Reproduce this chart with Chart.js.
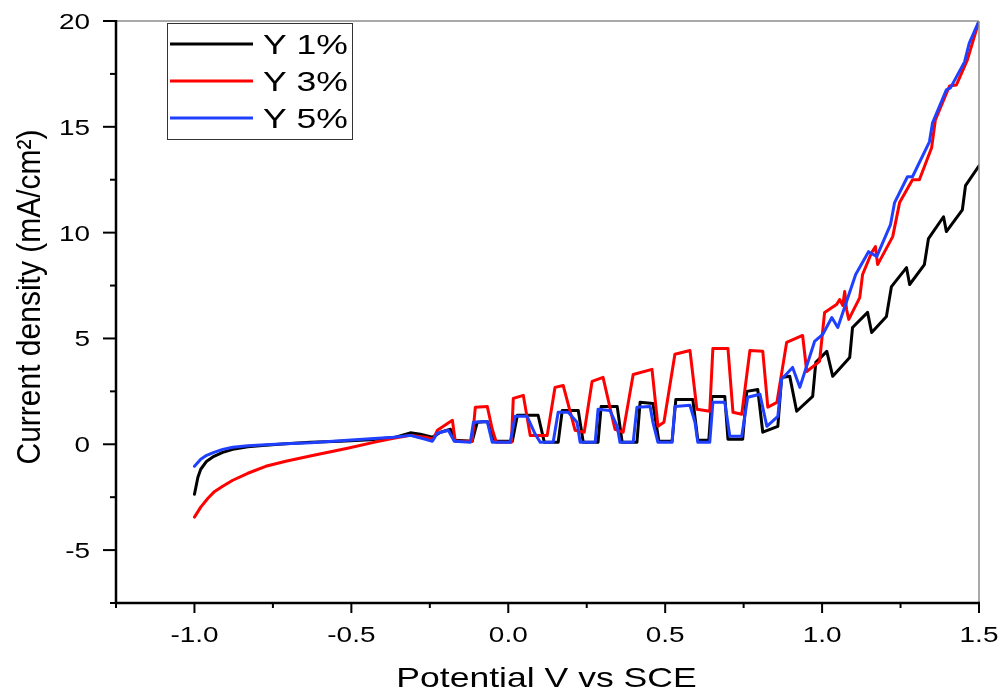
<!DOCTYPE html>
<html>
<head>
<meta charset="utf-8">
<script src="https://cdn.jsdelivr.net/npm/chart.js@4.4.1/dist/chart.umd.min.js"></script>
<style>
  html, body { margin: 0; padding: 0; background: #fff; }
  canvas { display: block; }
</style>
</head>
<body>
<canvas id="chart" width="1006" height="696"></canvas>
<script>
const seriesNames = ['Y 1%', 'Y 3%', 'Y 5%'];
const seriesColors = ['#000000', '#ff0000', '#2040ff'];

// chopped-light LSV scans, potential in V vs SCE, current in mA/cm2
const y1Potential = [-1.0, -0.989, -0.98, -0.961, -0.938, -0.91, -0.878, -0.83, -0.773, -0.709, -0.63, -0.534, -0.439, -0.359, -0.312, -0.28, -0.242, -0.216, -0.184, -0.169, -0.115, -0.099, -0.067, -0.041, 0.013, 0.029, 0.095, 0.115, 0.159, 0.172, 0.223, 0.239, 0.286, 0.296, 0.347, 0.363, 0.41, 0.42, 0.461, 0.48, 0.522, 0.534, 0.588, 0.604, 0.639, 0.649, 0.69, 0.70, 0.747, 0.76, 0.795, 0.811, 0.859, 0.871, 0.897, 0.919, 0.97, 0.98, 1.015, 1.034, 1.088, 1.097, 1.145, 1.158, 1.205, 1.221, 1.269, 1.279, 1.326, 1.339, 1.387, 1.396, 1.447, 1.457, 1.5];
const y1Current = [-2.36, -1.56, -1.18, -0.80, -0.57, -0.38, -0.24, -0.12, -0.05, 0.02, 0.09, 0.14, 0.21, 0.33, 0.54, 0.47, 0.33, 0.57, 0.71, 0.19, 0.14, 1.04, 1.08, 0.14, 0.14, 1.37, 1.37, 0.09, 0.09, 1.60, 1.60, 0.09, 0.09, 1.79, 1.79, 0.09, 0.09, 1.98, 1.93, 0.14, 0.14, 2.12, 2.12, 0.19, 0.19, 2.26, 2.26, 0.24, 0.24, 2.50, 2.59, 0.57, 0.85, 3.16, 3.21, 1.56, 2.26, 3.87, 4.39, 3.21, 4.10, 5.52, 6.23, 5.28, 6.04, 7.45, 8.35, 7.55, 8.49, 9.72, 10.75, 10.05, 11.08, 12.22, 13.16];

const y3Potential = [-1.0, -0.98, -0.957, -0.938, -0.91, -0.878, -0.83, -0.773, -0.709, -0.62, -0.512, -0.429, -0.366, -0.312, -0.264, -0.239, -0.226, -0.178, -0.169, -0.115, -0.105, -0.067, -0.051, -0.038, 0.010, 0.016, 0.048, 0.070, 0.124, 0.149, 0.175, 0.213, 0.242, 0.267, 0.302, 0.340, 0.366, 0.398, 0.458, 0.477, 0.496, 0.531, 0.579, 0.601, 0.642, 0.652, 0.700, 0.716, 0.744, 0.770, 0.811, 0.827, 0.856, 0.887, 0.938, 0.951, 0.992, 1.008, 1.046, 1.056, 1.066, 1.072, 1.078, 1.085, 1.120, 1.129, 1.158, 1.170, 1.177, 1.225, 1.247, 1.288, 1.310, 1.349, 1.361, 1.406, 1.428, 1.463, 1.5];
const y3Current = [-3.44, -2.97, -2.55, -2.26, -1.98, -1.70, -1.37, -1.04, -0.80, -0.52, -0.19, 0.09, 0.28, 0.42, 0.33, 0.24, 0.66, 1.13, 0.14, 0.14, 1.75, 1.79, 0.71, 0.09, 0.09, 2.17, 2.31, 0.42, 0.42, 2.69, 2.78, 0.66, 0.57, 2.97, 3.16, 0.71, 0.57, 3.30, 3.54, 0.85, 1.04, 4.25, 4.43, 1.65, 1.56, 4.53, 4.53, 1.51, 1.42, 4.43, 4.39, 1.75, 1.98, 4.81, 5.14, 3.44, 3.92, 6.23, 6.60, 6.84, 6.56, 7.22, 6.37, 5.90, 6.93, 8.02, 9.06, 9.34, 8.49, 9.81, 11.42, 12.50, 12.50, 14.01, 15.33, 16.93, 16.98, 18.16, 20.0];

const y5Potential = [-1.0, -0.98, -0.961, -0.938, -0.91, -0.878, -0.83, -0.773, -0.709, -0.63, -0.512, -0.366, -0.312, -0.264, -0.242, -0.226, -0.191, -0.172, -0.121, -0.111, -0.067, -0.051, 0.006, 0.022, 0.060, 0.086, 0.102, 0.143, 0.159, 0.191, 0.219, 0.229, 0.277, 0.286, 0.324, 0.347, 0.356, 0.398, 0.410, 0.452, 0.461, 0.477, 0.522, 0.531, 0.579, 0.595, 0.604, 0.642, 0.652, 0.690, 0.706, 0.744, 0.763, 0.802, 0.824, 0.859, 0.871, 0.906, 0.929, 0.976, 1.002, 1.031, 1.050, 1.107, 1.148, 1.174, 1.218, 1.231, 1.272, 1.288, 1.342, 1.352, 1.396, 1.409, 1.454, 1.469, 1.5];
const y5Current = [-1.04, -0.71, -0.52, -0.38, -0.24, -0.14, -0.07, -0.02, 0.02, 0.07, 0.19, 0.33, 0.42, 0.24, 0.14, 0.52, 0.66, 0.14, 0.09, 1.04, 1.08, 0.09, 0.09, 1.32, 1.32, 0.47, 0.09, 0.09, 1.51, 1.51, 1.04, 0.09, 0.09, 1.65, 1.60, 0.85, 0.09, 0.09, 1.75, 1.79, 1.04, 0.09, 0.09, 1.79, 1.84, 1.04, 0.09, 0.09, 1.98, 1.98, 0.38, 0.38, 2.22, 2.36, 0.85, 1.32, 3.07, 3.63, 2.69, 4.86, 5.19, 5.99, 5.52, 8.02, 9.10, 8.87, 10.38, 11.42, 12.64, 12.64, 14.29, 15.19, 16.75, 16.84, 18.07, 18.96, 20.0];

const xMajorTicks = [-1.0, -0.5, 0.0, 0.5, 1.0, 1.5];
const xMinorTicks = [-1.25, -0.75, -0.25, 0.25, 0.75, 1.25];
const yMajorTicks = [-5, 0, 5, 10, 15, 20];
const yMinorTicks = [-7.5, -2.5, 2.5, 7.5, 12.5, 17.5];
const xTitle = 'Potential V vs SCE';
const yTitle = 'Current density (mA/cm²)';

const FONT = '"Liberation Sans", Arial, sans-serif';
const STRETCH = 1.27; // text is drawn a bit wide

function points(xs, ys) {
  return xs.map((x, i) => ({ x, y: ys[i] }));
}

function wideText(ctx, text, x, y, size, align) {
  ctx.save();
  ctx.translate(x, y);
  ctx.scale(STRETCH, 1);
  ctx.font = size + 'px ' + FONT;
  ctx.textAlign = align;
  ctx.textBaseline = 'alphabetic';
  ctx.fillStyle = '#000';
  ctx.fillText(text, 0, 0);
  ctx.restore();
}

function line(ctx, x1, y1, x2, y2, color, width) {
  ctx.beginPath();
  ctx.moveTo(x1, y1);
  ctx.lineTo(x2, y2);
  ctx.strokeStyle = color;
  ctx.lineWidth = width;
  ctx.stroke();
}

// frame, ticks, labels, titles and legend in the plotting-software look
const framePlugin = {
  id: 'frame',
  afterDraw(chart) {
    const { ctx, chartArea: a, scales: { x, y } } = chart;
    ctx.save();
    ctx.lineCap = 'butt';
    line(ctx, a.left, a.top, a.right, a.top, '#8c8c8c', 1.5);
    line(ctx, a.right, a.top, a.right, a.bottom, '#8c8c8c', 1.5);
    line(ctx, a.left, a.top - 1, a.left, a.bottom + 1, '#000', 2.5);
    line(ctx, a.left - 1, a.bottom, a.right + 1, a.bottom, '#000', 2.5);

    for (const v of xMajorTicks) {
      const px = x.getPixelForValue(v);
      line(ctx, px, a.bottom, px, a.bottom + 10, '#000', 2);
      wideText(ctx, v.toFixed(1), px, a.bottom + 39, 22, 'center');
    }
    for (const v of xMinorTicks) {
      const px = x.getPixelForValue(v);
      line(ctx, px, a.bottom, px, a.bottom + 5, '#000', 2);
    }
    for (const v of yMajorTicks) {
      const py = y.getPixelForValue(v);
      line(ctx, a.left - 13, py, a.left, py, '#000', 2);
      wideText(ctx, String(v), a.left - 26, py + 8, 22, 'right');
    }
    for (const v of yMinorTicks) {
      const py = y.getPixelForValue(v);
      line(ctx, a.left - 6, py, a.left, py, '#000', 2);
    }

    wideText(ctx, xTitle, (a.left + a.right) / 2 - 1, 687, 28, 'center');

    ctx.save();
    ctx.translate(31, (a.top + a.bottom) / 2 - 15);
    ctx.scale(1.12, 1);
    ctx.rotate(-Math.PI / 2);
    ctx.font = '30px ' + FONT;
    ctx.textAlign = 'center';
    ctx.textBaseline = 'middle';
    ctx.fillStyle = '#000';
    ctx.fillText(yTitle, 0, 0);
    ctx.restore();

    // legend box
    ctx.strokeStyle = '#333';
    ctx.lineWidth = 1;
    ctx.strokeRect(167.5, 23.5, 185, 116);
    chart.data.datasets.forEach((ds, i) => {
      const ly = 44 + i * 37;
      line(ctx, 170, ly, 253, ly, ds.borderColor, 3);
      wideText(ctx, ds.label, 263, ly + 10, 28, 'left');
    });
    ctx.restore();
  }
};

const seriesData = [
  points(y1Potential, y1Current),
  points(y3Potential, y3Current),
  points(y5Potential, y5Current)
];

new Chart(document.getElementById('chart'), {
  type: 'scatter',
  data: {
    datasets: seriesData.map((data, i) => ({
      label: seriesNames[i],
      data,
      showLine: true,
      borderColor: seriesColors[i],
      backgroundColor: seriesColors[i],
      borderWidth: 3,
      borderJoinStyle: 'round',
      borderCapStyle: 'round',
      pointRadius: 0,
      tension: 0,
      order: 3 - i
    }))
  },
  options: {
    responsive: false,
    animation: false,
    events: [],
    layout: { padding: { left: 0, right: 27, top: 21, bottom: 0 } },
    plugins: { legend: { display: false }, tooltip: { enabled: false } },
    scales: {
      x: {
        type: 'linear',
        min: -1.25,
        max: 1.5,
        ticks: { display: false },
        grid: { display: false },
        border: { display: false },
        afterFit(scale) { scale.height = 93; }
      },
      y: {
        type: 'linear',
        min: -7.5,
        max: 20,
        ticks: { display: false },
        grid: { display: false },
        border: { display: false },
        afterFit(scale) { scale.width = 116; }
      }
    }
  },
  plugins: [framePlugin]
});
</script>
</body>
</html>
